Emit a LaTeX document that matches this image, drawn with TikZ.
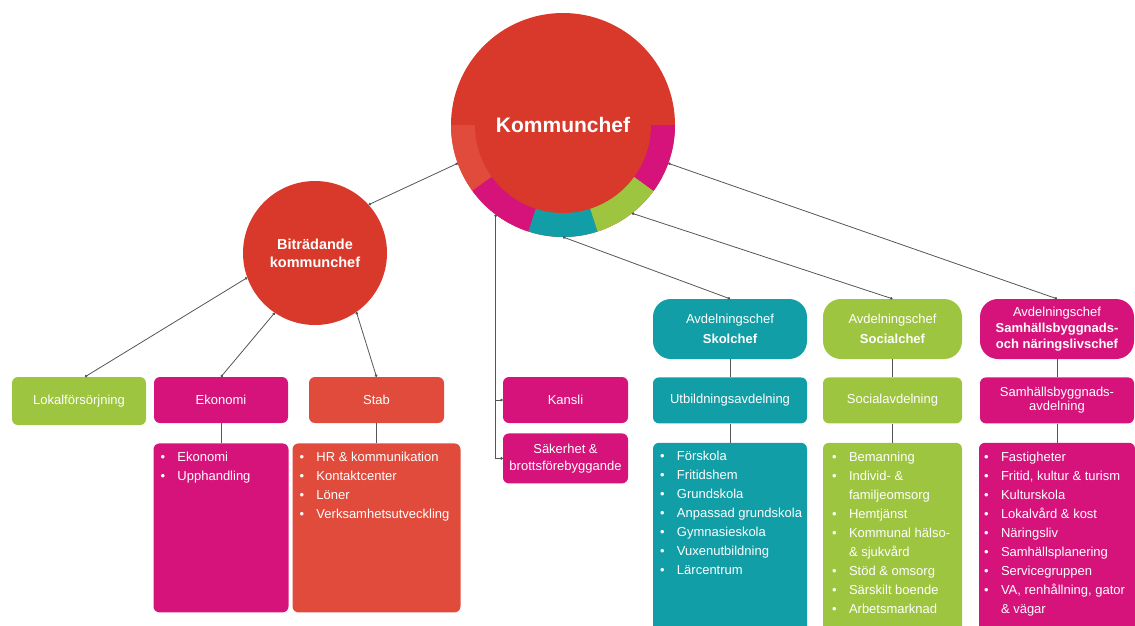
\documentclass[tikz,border=0pt]{standalone}
\usepackage{fontspec}
\setmainfont{Liberation Sans}
\usepackage{xcolor}
\usetikzlibrary{positioning,arrows.meta}

\definecolor{kred}{HTML}{D9392A}
\definecolor{klight}{HTML}{E14B3B}
\definecolor{kpink}{HTML}{D5137A}
\definecolor{kteal}{HTML}{119EA6}
\definecolor{kgreen}{HTML}{9DC53F}
\definecolor{linegray}{HTML}{555555}

\tikzset{
  box/.style={rectangle, rounded corners=6pt, text=white, align=center,
    font=\fontsize{13}{16}\selectfont, minimum height=46pt, inner sep=0pt},
  head/.style={box, rounded corners=18pt, minimum height=60pt,
    minimum width=154pt, font=\fontsize{13}{20}\selectfont},
  listbox/.style={rectangle, rounded corners=6pt, inner sep=0pt},
  items/.style={anchor=north west, text=white, align=left, inner sep=0pt,
    font=\fontsize{13}{19}\selectfont},
  conn/.style={draw=linegray, line width=0.8pt,
    {Circle[length=2.6pt]}-{Circle[length=2.6pt]}},
  link/.style={draw=linegray, line width=0.8pt},
}

\newcommand{\itm}[1]{\makebox[17pt][l]{\textbullet}#1}
\newcommand{\cnt}[1]{\hspace*{17pt}#1}

\begin{document}
\begin{tikzpicture}[x=1pt,y=-1pt]
  \useasboundingbox (0,0) rectangle (1135,625);

  % Nodes

  \node[circle, fill=kred, minimum size=224pt, inner sep=0pt, outer sep=0pt] (kc) at (563,125) {};
  \fill[klight] (kc.center) -- (kc.180) arc[start angle=180, end angle=216, radius=112pt] -- cycle;
  \fill[kpink] (kc.center) -- (kc.216) arc[start angle=216, end angle=252, radius=112pt] -- cycle;
  \fill[kteal] (kc.center) -- (kc.252) arc[start angle=252, end angle=288, radius=112pt] -- cycle;
  \fill[kgreen] (kc.center) -- (kc.288) arc[start angle=288, end angle=324, radius=112pt] -- cycle;
  \fill[kpink] (kc.center) -- (kc.324) arc[start angle=324, end angle=360, radius=112pt] -- cycle;
  \node[circle, fill=kred, minimum size=176pt, inner sep=0pt, text=white,
    font=\bfseries\fontsize{21}{25}\selectfont] (kcin) at (kc.center) {Kommunchef};

  \node[circle, fill=kred, minimum size=144pt, inner sep=0pt, text=white, align=center,
    font=\bfseries\fontsize{14.5}{18}\selectfont] (bk) at (315,253) {Biträdande\\kommunchef};

  \node[box, fill=kgreen, minimum width=134pt, minimum height=48pt] (lokal) at (79,401) {Lokalförsörjning};
  \node[box, fill=kpink, minimum width=134pt] (ekon) at (221,400) {Ekonomi};
  \node[box, fill=klight, minimum width=135pt] (stab) at (376.5,400) {Stab};
  \node[listbox, fill=kpink, minimum width=135pt, minimum height=169pt, below=20pt of ekon] (ekonl) {};
  \node[listbox, fill=klight, minimum width=168pt, minimum height=169pt, below=20pt of stab] (stabl) {};

  \node[box, fill=kpink, minimum width=125pt] (kansli) at (565.5,400) {Kansli};
  \node[box, fill=kpink, minimum width=125pt, minimum height=50pt, below=10pt of kansli,
    font=\fontsize{13}{17}\selectfont] (saker) {Säkerhet \&\\brottsförebyggande};

  \node[head, fill=kteal] (skol) at (730,329) {Avdelningschef\\\textbf{Skolchef}};
  \node[box, fill=kteal, minimum width=154pt, below=18pt of skol] (utb) {Utbildningsavdelning};
  \node[listbox, fill=kteal, minimum width=154pt, minimum height=200pt, below=19pt of utb] (utbl) {};

  \node[head, fill=kgreen, minimum width=139pt] (soc) at (892.5,329) {Avdelningschef\\\textbf{Socialchef}};
  \node[box, fill=kgreen, minimum width=139pt, below=18pt of soc] (socavd) {Socialavdelning};
  \node[listbox, fill=kgreen, minimum width=139pt, minimum height=200pt, below=19pt of socavd] (socl) {};

  \node[head, fill=kpink, font=\fontsize{13}{16}\selectfont] (samh) at (1057,329)
    {Avdelningschef\\\textbf{Samhällsbyggnads-}\\\textbf{och näringslivschef}};
  \node[box, fill=kpink, minimum width=154pt, below=18pt of samh,
    font=\fontsize{13}{14}\selectfont] (samhavd) {Samhällsbyggnads-\\avdelning};
  \node[listbox, fill=kpink, minimum width=156pt, minimum height=200pt, below=19pt of samhavd] (samhl) {};

  % List texts
  \node[items] at ([shift={(7,9)}]ekonl.north west) {\itm{Ekonomi}\\\itm{Upphandling}};
  \node[items] at ([shift={(7,9)}]stabl.north west) {\itm{HR \& kommunikation}\\\itm{Kontaktcenter}\\
    \itm{Löner}\\\itm{Verksamhetsutveckling}};
  \node[items] at ([shift={(7,8)}]utbl.north west) {\itm{Förskola}\\\itm{Fritidshem}\\\itm{Grundskola}\\
    \itm{Anpassad grundskola}\\\itm{Gymnasieskola}\\\itm{Vuxenutbildning}\\\itm{Lärcentrum}};
  \node[items] at ([shift={(9,9)}]socl.north west) {\itm{Bemanning}\\\itm{Individ- \&}\\\cnt{familjeomsorg}\\
    \itm{Hemtjänst}\\\itm{Kommunal hälso-}\\\cnt{\& sjukvård}\\\itm{Stöd \& omsorg}\\
    \itm{Särskilt boende}\\\itm{Arbetsmarknad}};
  \node[items] at ([shift={(5,9)}]samhl.north west) {\itm{Fastigheter}\\\itm{Fritid, kultur \& turism}\\
    \itm{Kulturskola}\\\itm{Lokalvård \& kost}\\\itm{Näringsliv}\\\itm{Samhällsplanering}\\
    \itm{Servicegruppen}\\\itm{VA, renhållning, gator}\\\cnt{\& vägar}};

  % Edges
  \draw[conn] (kc.200) -- (bk.42);
  \draw[conn] (bk.200) -- ([xshift=6pt]lokal.north);
  \draw[conn] (bk.236) -- (ekon.north);
  \draw[conn] (bk.305) -- (stab.north);
  \draw[conn] (kc.233) |- (saker.west);
  \draw[link, -{Circle[length=2.6pt]}] (kc.233 |- kansli.west) -- (kansli.west);
  \draw[conn] (kc.270) -- (skol.north);
  \draw[conn] (kc.308) -- (soc.north);
  \draw[conn] (kc.340) -- (samh.north);

  \draw[link] (ekon.south) -- (ekonl.north);
  \draw[link] (stab.south) -- (stabl.north);
  \draw[link] (skol.south) -- (utb.north);
  \draw[link] (utb.south) -- (utbl.north);
  \draw[link] (soc.south) -- (socavd.north);
  \draw[link] (socavd.south) -- (socl.north);
  \draw[link] (samh.south) -- (samhavd.north);
  \draw[link] (samhavd.south) -- (samhl.north);
\end{tikzpicture}
\end{document}
